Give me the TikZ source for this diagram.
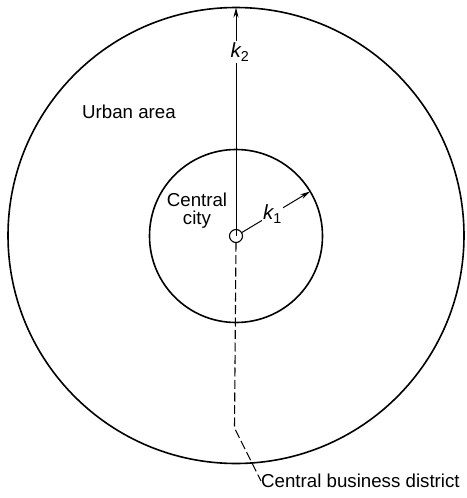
\documentclass[tikz,border=0pt]{standalone}
\usepackage{fontspec}
\setmainfont{Liberation Sans}
\usetikzlibrary{arrows.meta}
\begin{document}
\begin{tikzpicture}[x=1pt,y=-1pt,
  ring/.style={circle, draw, line width=1.6pt, inner sep=0pt, outer sep=0pt},
  hub/.style={circle, draw, line width=1.1pt, inner sep=0pt, outer sep=0pt, minimum size=13pt},
  lbl/.style={font=\fontsize{18.7}{18}\selectfont, inner sep=0pt},
  klbl/.style={font=\fontsize{20.5}{20}\selectfont, fill=white},
  radiusline/.style={line width=1pt},
  tipped/.style={-{Stealth[length=10pt,width=5pt]}},
  leader/.style={line width=1.1pt, dash pattern=on 9pt off 3.5pt}]
\useasboundingbox (0,0) rectangle (466,498);
\coordinate (O) at (236,236);
\node[ring, minimum size=456pt] (outer) at (236,235.5) {};
\node[ring, minimum size=173pt] (inner) at (O) {};
\node[hub] (cbd) at (O) {};
% k2 radius
\draw[radiusline, tipped] (O) -- node[klbl, inner sep=2pt, pos=0.805, xshift=4pt] (k2) {{\itshape k}\textsubscript{2}} (outer.north);
% k1 radius
\draw[radiusline, tipped] (cbd.31) -- node[klbl, inner sep=1.5pt, pos=0.45] (k1) {{\itshape k}\textsubscript{1}} (inner.31);
% labels
\node[lbl] (urban) at (129,112) {Urban area};
\node[lbl, align=center] (city) at (197,211) {Central\\city};
\node[lbl, anchor=west] (cbdl) at (261,481) {Central business district};
% leader to CBD
\coordinate (bend) at (234.5,428);
\draw[leader] (cbd.south) -- (bend) -- (cbdl.west);
\end{tikzpicture}
\end{document}
